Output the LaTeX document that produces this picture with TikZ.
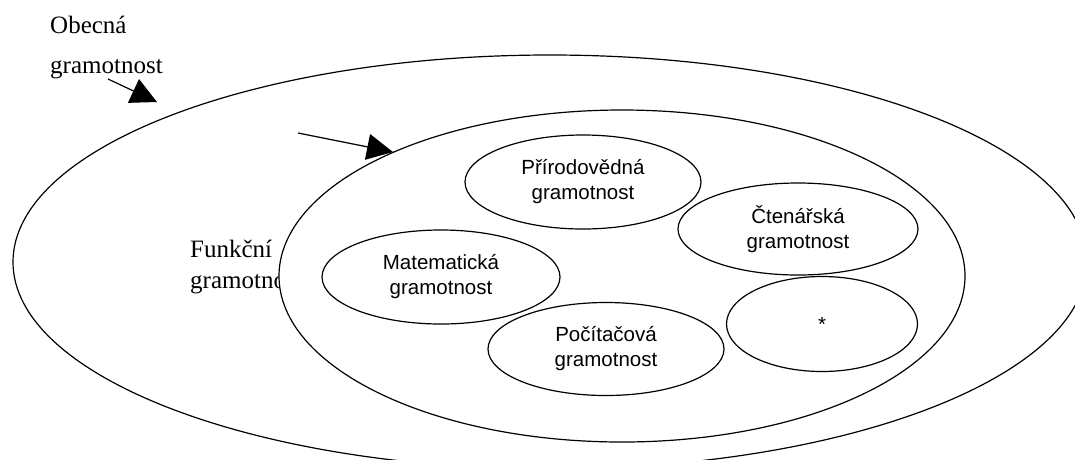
\documentclass[tikz,border=0pt]{standalone}
\usepackage{fontspec}
\setmainfont{Liberation Serif}
\setsansfont{Liberation Sans}
\usetikzlibrary{shapes.geometric,arrows.meta}
\tikzset{
  ring/.style={ellipse, draw=black, line width=1.2pt, inner sep=0pt},
  bubble/.style={ellipse, draw=black, line width=1.2pt, inner sep=0pt, align=center,
    font=\sffamily\fontsize{20.5}{25}\selectfont},
  serifl/.style={font=\fontsize{25}{31}\selectfont, inner sep=0pt, anchor=base west},
  pointer/.style={line width=1.2pt, -{Triangle[length=26pt,width=26pt]}},
}
\begin{document}
\begin{tikzpicture}[x=1pt,y=-1pt]
\useasboundingbox (0,0) rectangle (1075,459);
\clip (0,0) rectangle (1075,459);
\node[ring, minimum width=1074pt, minimum height=414pt] (outer) at (550,262) {};
\node[serifl] (funkA) at (190,257) {Funkční};
\node[serifl] (funkB) at (190,288) {gramotnost};
\node[ring, fill=white, minimum width=686pt, minimum height=332pt] (inner) at (622,276) {};
\node[bubble, minimum width=236pt, minimum height=94pt] (prir) at (583,182) {Přírodovědná\\gramotnost};
\node[bubble, minimum width=240pt, minimum height=92pt] (cten) at (798,229) {Čtenářská\\gramotnost};
\node[bubble, minimum width=238pt, minimum height=94pt] (mat) at (441,277) {Matematická\\gramotnost};
\node[bubble, minimum width=236pt, minimum height=93pt] (poc) at (606,349) {Počítačová\\gramotnost};
\node[bubble, minimum width=191pt, minimum height=95pt] (star) at (822,324) {*};
\node[serifl] (obecA) at (50,33) {Obecná};
\node[serifl] (obecB) at (50,73) {gramotnost};
\coordinate (a1s) at (108,79);
\coordinate (a1e) at (157,102);
\coordinate (a2s) at (298,133);
\coordinate (a2e) at (393,152);
\draw[pointer] (a1s) -- (a1e);
\draw[pointer] (a2s) -- (a2e);
\end{tikzpicture}
\end{document}
